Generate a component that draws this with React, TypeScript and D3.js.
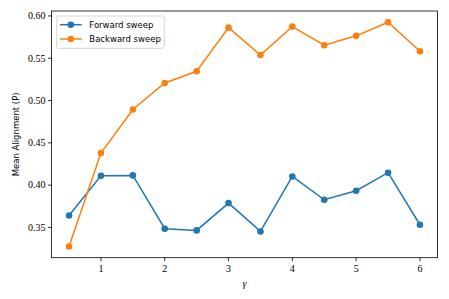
import React from "react";
import * as d3 from "d3";

const gammas = [0.5, 1, 1.5, 2, 2.5, 3, 3.5, 4, 4.5, 5, 5.5, 6];
const forward = [0.3642, 0.4111, 0.4115, 0.3485, 0.3465, 0.3788, 0.3453, 0.4103, 0.3827, 0.3934, 0.4147, 0.3532];
const backward = [0.3275, 0.4379, 0.4894, 0.5208, 0.5346, 0.5862, 0.5539, 0.5874, 0.5654, 0.5765, 0.5926, 0.5583];
const xTicks = [1, 2, 3, 4, 5, 6];
const yTicks = [0.35, 0.4, 0.45, 0.5, 0.55, 0.6];
const seriesNames = ["Forward sweep", "Backward sweep"];
const colors = ["#1f77b4", "#ff7f0e"];

export default function App() {
  const W = 449, H = 299;
  const left = 51.5, right = 437.5, top = 11, bottom = 257.7;
  const x = d3.scaleLinear().domain([0.225, 6.275]).range([left, right]);
  const allV = [...forward, ...backward];
  const mn = d3.min(allV)!, mx = d3.max(allV)!;
  const pad = (mx - mn) * 0.05;
  const y = d3.scaleLinear().domain([mn - pad, mx + pad]).range([bottom, top]);
  const line = d3.line<number>().x((_, i) => x(gammas[i])).y((d) => y(d));
  const series = [forward, backward];
  const serif = "'Liberation Serif', 'DejaVu Serif', serif";
  const sans = "'DejaVu Sans', sans-serif";
  return (
    <svg width={W} height={H} style={{ position: "absolute", left: 0, top: 0 }}>
      <rect width={W} height={H} fill="white" />
      {series.map((s, k) => (
        <g key={k}>
          <path d={line(s)!} fill="none" stroke={colors[k]} strokeWidth={1.5} />
          {s.map((v, i) => (
            <circle key={i} cx={x(gammas[i])} cy={y(v)} r={3.3} fill={colors[k]} />
          ))}
        </g>
      ))}
      <rect x={left} y={top} width={right - left} height={bottom - top} fill="none" stroke="black" strokeWidth={0.8} />
      {xTicks.map((t) => (
        <g key={t}>
          <line x1={x(t)} x2={x(t)} y1={bottom} y2={bottom + 3.5} stroke="black" strokeWidth={0.8} />
          <text x={x(t)} y={bottom + 14} textAnchor="middle" fontFamily={serif} fontSize={10}>{t}</text>
        </g>
      ))}
      {yTicks.map((t) => (
        <g key={t}>
          <line x1={left - 3.5} x2={left} y1={y(t)} y2={y(t)} stroke="black" strokeWidth={0.8} />
          <text x={left - 6} y={y(t) + 3.3} textAnchor="end" fontFamily={serif} fontSize={10}>{t.toFixed(2)}</text>
        </g>
      ))}
      <text x={(left + right) / 2} y={287} textAnchor="middle" fontFamily={serif} fontStyle="italic" fontSize={10}>γ</text>
      <text transform={`translate(19,${(top + bottom) / 2}) rotate(-90)`} textAnchor="middle" fontFamily={sans} fontSize={8.5}>Mean Alignment (P)</text>
      <rect x={56.7} y={16} width={107.6} height={32.3} rx={2} fill="white" fillOpacity={0.8} stroke="#cccccc" strokeWidth={0.8} />
      {seriesNames.map((n, k) => (
        <g key={n}>
          <line x1={60} x2={81.7} y1={24.7 + k * 14.3} y2={24.7 + k * 14.3} stroke={colors[k]} strokeWidth={1.5} />
          <circle cx={70.8} cy={24.7 + k * 14.3} r={3.3} fill={colors[k]} />
          <text x={89.3} y={24.7 + k * 14.3 + 3} fontFamily={sans} fontSize={8.5}>{n}</text>
        </g>
      ))}
    </svg>
  );
}
